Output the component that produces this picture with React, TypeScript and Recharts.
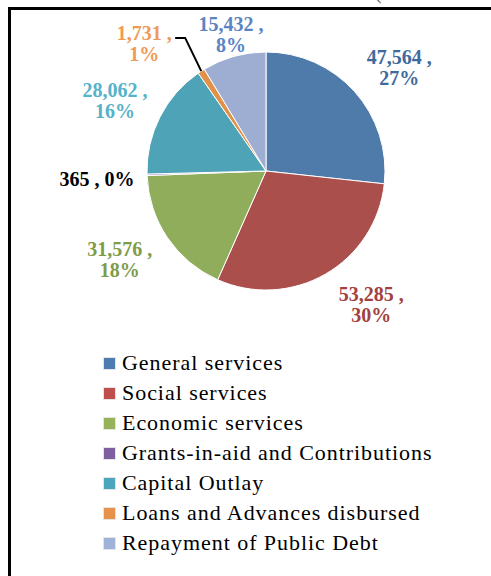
import React from "react";
import { PieChart, Pie, Cell, Legend } from "recharts";

const categories = [
  "General services",
  "Social services",
  "Economic services",
  "Grants-in-aid and Contributions",
  "Capital Outlay",
  "Loans and Advances disbursed",
  "Repayment of Public Debt",
];
const values = [47564, 53285, 31576, 365, 28062, 1731, 15432];
const percentLabels = ["27%", "30%", "18%", "0%", "16%", "1%", "8%"];

const sliceColors = ["#4E7BAA", "#AB4F4D", "#8FAD5A", "#7F63A1", "#4FA3B6", "#E0924A", "#9DAED2"];
const legendColors = ["#4F7CB0", "#BE4F4C", "#97B359", "#7D60A0", "#4BA5BD", "#E8914A", "#9FB2D8"];
const labelColors = ["#3F6A9C", "#A3413F", "#7F9C47", "#000000", "#56B2CA", "#F09A58", "#5A84C2"];
// label nudges (style only)
const labelNudge = [
  [9, 8],
  [22, -12],
  [-8, -6],
  [-2, 3],
  [-2, 5],
  [-31, 12],
  [10, 24],
];

const data = categories.map((name, i) => ({ name, value: values[i] }));

const FONT = "Liberation Serif";
const RAD = Math.PI / 180;

function polar(cx: number, cy: number, r: number, angle: number) {
  return { x: cx + r * Math.cos(-angle * RAD), y: cy + r * Math.sin(-angle * RAD) };
}

const renderLabel = (props: any) => {
  const { cx, cy, midAngle, outerRadius, index, value } = props;
  const base = polar(cx, cy, outerRadius + 48, midAngle);
  const [dx, dy] = labelNudge[index];
  const x = base.x + dx;
  const y = base.y + dy;
  const color = labelColors[index];
  const valText = Number(value).toLocaleString("en-US");
  const single = index === 3;
  const elements: any[] = [];
  if (index === 5) {
    const start = polar(cx, cy, outerRadius, midAngle);
    elements.push(
      <polyline
        key="leader"
        points={`${start.x},${start.y} ${x + 41},${y - 5} ${x + 31},${y - 5}`}
        fill="none"
        stroke="#000"
        strokeWidth={2}
      />
    );
  }
  if (single) {
    elements.push(
      <text key="t" x={x} y={y} textAnchor="middle" dominantBaseline="central" fill={color}
        fontFamily={FONT} fontSize={20} fontWeight="bold">
        {`${valText} , ${percentLabels[index]}`}
      </text>
    );
  } else {
    elements.push(
      <text key="t" x={x} y={y} textAnchor="middle" fill={color}
        fontFamily={FONT} fontSize={20} fontWeight="bold">
        <tspan x={x} y={y - 10} dominantBaseline="central">{`${valText} ,`}</tspan>
        <tspan x={x} y={y + 11} dominantBaseline="central">{percentLabels[index]}</tspan>
      </text>
    );
  }
  return <g key={`lbl-${index}`}>{elements}</g>;
};

const renderLegend = () => (
  <div style={{ fontFamily: FONT, fontSize: 22, letterSpacing: 0.95, color: "#000" }}>
    {categories.map((name, i) => (
      <div key={name} style={{ height: 30, display: "flex", alignItems: "center", whiteSpace: "nowrap" }}>
        <span
          style={{
            display: "inline-block",
            width: 11,
            height: 11,
            background: legendColors[i],
            border: "1px solid #e4e4e4",
            marginRight: 6,
          }}
        />
        <span>{name}</span>
      </div>
    ))}
  </div>
);

export default function App() {
  return (
    <div style={{ position: "absolute", left: 0, top: 0, width: 491, height: 576, background: "#fff", overflow: "hidden" }}>
      <div
        style={{
          position: "absolute",
          left: 8,
          top: 7,
          width: 500,
          height: 600,
          borderLeft: "3px solid #000",
          borderTop: "3px solid #000",
        }}
      />
      <div style={{ position: "absolute", left: 375, top: -18, fontFamily: FONT, fontSize: 20, lineHeight: "20px", color: "#555" }}>(</div>
      <div style={{ position: "absolute", left: 0, top: 0 }}>
        <PieChart width={491} height={576} margin={{ top: 0, right: 0, bottom: 0, left: 0 }}>
          <Pie
            data={data}
            dataKey="value"
            nameKey="name"
            cx={266}
            cy={171}
            outerRadius={119}
            startAngle={90}
            endAngle={-270}
            stroke="#ffffff"
            strokeWidth={1}
            label={renderLabel}
            labelLine={false}
            isAnimationActive={false}
          >
            {data.map((d, i) => (
              <Cell key={d.name} fill={sliceColors[i]} />
            ))}
          </Pie>
          <Legend
            content={renderLegend}
            wrapperStyle={{ position: "absolute", left: 103, top: 348, width: 380 }}
          />
        </PieChart>
      </div>
    </div>
  );
}
